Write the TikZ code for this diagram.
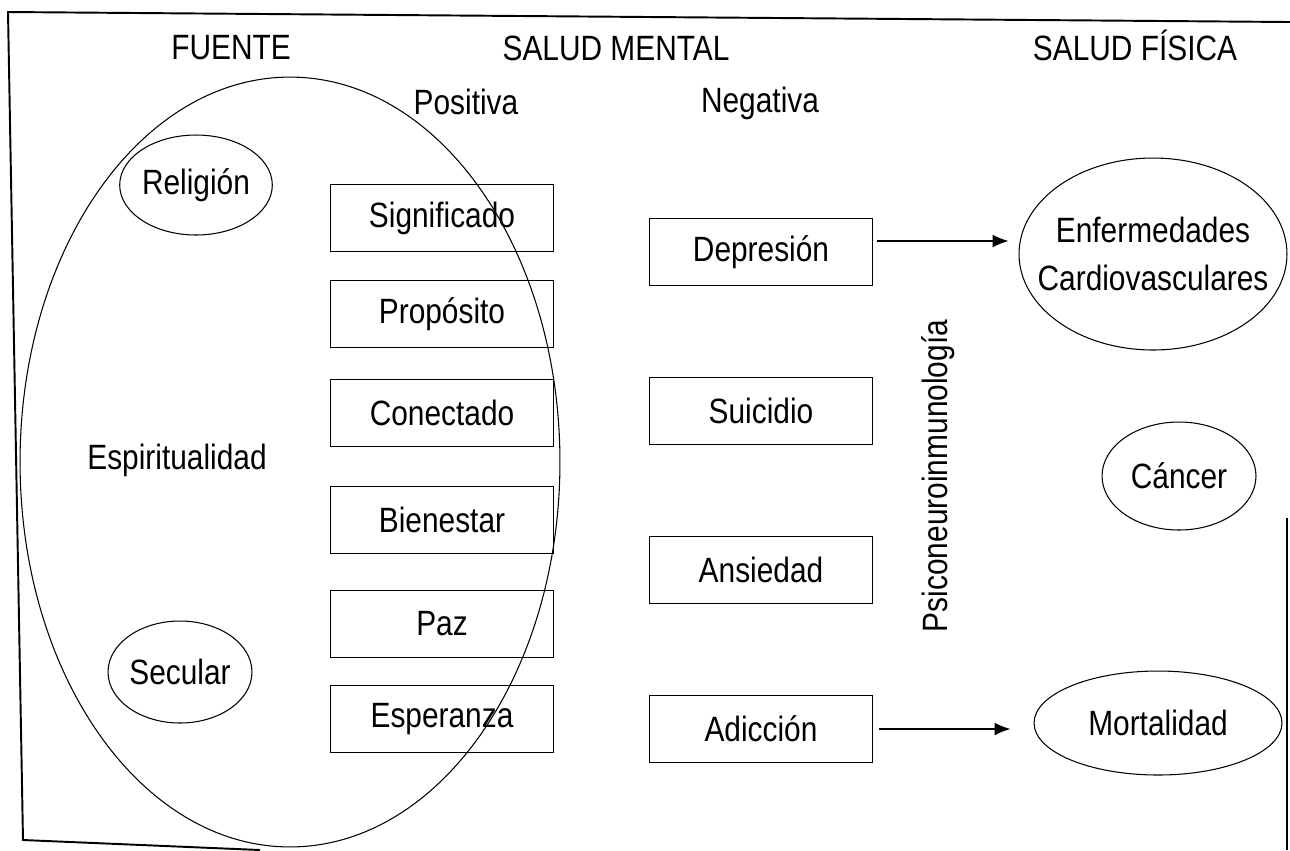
\documentclass[tikz,border=0pt]{standalone}
\usepackage{fontspec}
\setmainfont{Liberation Sans}[FakeStretch=0.85]
\usetikzlibrary{shapes.geometric, arrows.meta}

\tikzset{
	caja/.style={draw, rectangle, line width=0.85pt, minimum width=4.46cm, minimum height=1.34cm, inner sep=0pt},
	elipse/.style={draw, ellipse, line width=0.6pt, inner sep=0pt, align=center},
	flecha/.style={->, >={Latex[length=0.32cm, width=0.26cm]}, line width=0.8pt},
	marco/.style={line width=1.1pt},
}

\begin{document}
\begin{tikzpicture}[x=0.02cm, y=-0.02cm, font=\fontsize{20}{27}\selectfont]
	\useasboundingbox (0,0) rectangle (1290,850);
	% marco (escaneado, algo torcido)
	\draw[marco] (1290,22) -- (8,12) -- (23,840) -- (260,850);
	\draw[marco] (1287,518) -- (1287,850);

	% titulos
	\node (fuente) at (231, 48) {FUENTE};
	\node (mental) at (616, 48) {SALUD MENTAL};
	\node (fisica) at (1135, 45) {SALUD FÍSICA};
	\node (pos) at (466, 102) {Positiva};
	\node (neg) at (760, 103) {Negativa};

	% fuente
	\node[elipse, minimum width=10.8cm, minimum height=15.4cm] (esp) at (290, 462) {};
	\node (esptxt) at (177, 460) {Espiritualidad};
	\node[elipse, minimum width=3cm, minimum height=2cm] (rel) at (196, 185) {Religión};
	\node[elipse, minimum width=2.88cm, minimum height=2.04cm] (sec) at (180, 672) {Secular};

	% salud mental positiva
	\node[caja] (sig) at (442, 218) {Significado};
	\node[caja] (prop) at (442, 314) {Propósito};
	\node[caja] (con) at (442, 413) {Conectado};
	\node[caja] (bien) at (442, 520) {Bienestar};
	\node[caja] (paz) at (442, 624) {Paz};
	\node[caja] (esper) at (442, 719) {Esperanza};

	% salud mental negativa
	\node[caja] (dep) at (761, 252) {Depresión};
	\node[caja] (sui) at (761, 411) {Suicidio};
	\node[caja] (ans) at (761, 570) {Ansiedad};
	\node[caja] (adic) at (761, 729) {Adicción};

	\node[rotate=90] (psi) at (938, 476) {Psiconeuroinmunología};

	% salud fisica
	\node[elipse, minimum width=5.36cm, minimum height=3.84cm] (enf) at (1153, 254) {};
	\node[align=center] (enftxt) at (enf) {Enfermedades\\Cardiovasculares};
	\node[elipse, minimum width=3.08cm, minimum height=2.16cm] (can) at (1179, 476) {Cáncer};
	\node[elipse, minimum width=4.96cm, minimum height=2.08cm] (mort) at (1158, 723) {Mortalidad};

	\draw[flecha, shorten <=0.08cm, shorten >=0.2cm] ([yshift=0.22cm]dep.east) -- ([yshift=0.22cm]dep.east -| enf.west);
	\draw[flecha, shorten <=0.12cm, shorten >=0.46cm] (adic.east) -- (adic.east -| mort.west);
\end{tikzpicture}
\end{document}
